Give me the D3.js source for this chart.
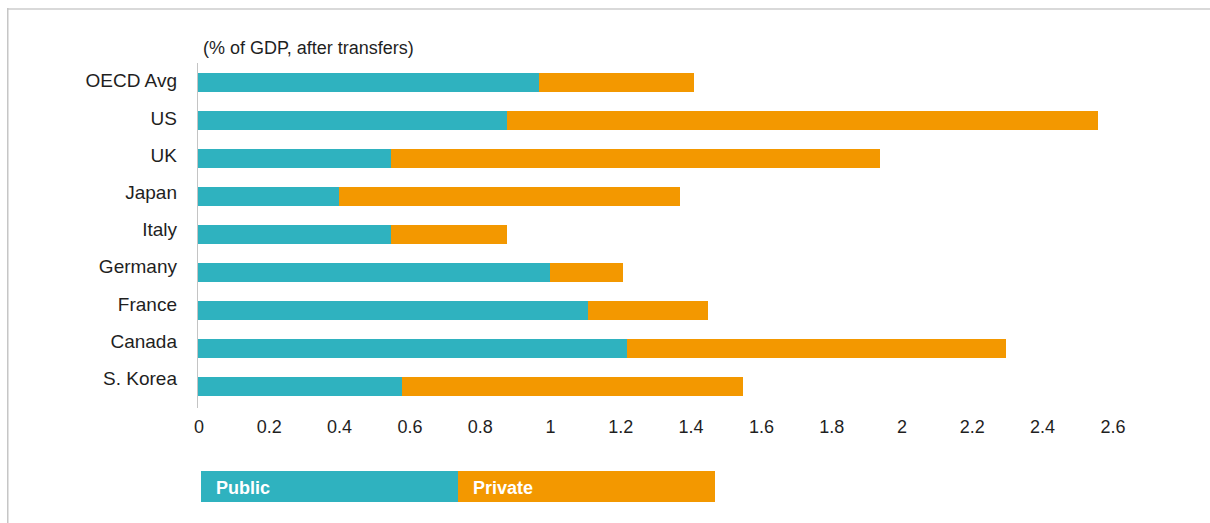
<!DOCTYPE html>
<html>
<head>
<meta charset="utf-8">
<script src="https://cdn.jsdelivr.net/npm/d3@7"></script>
<style>
  html, body { margin: 0; padding: 0; background: #fff; }
  svg { display: block; }
  text { font-family: "Liberation Sans", Arial, sans-serif; fill: #1f1f1f; }
</style>
</head>
<body>
<script>
// Spending by source, % of GDP after transfers
const categories = ["OECD Avg", "US", "UK", "Japan", "Italy", "Germany", "France", "Canada", "S. Korea"];
const publicValues = [0.97, 0.88, 0.55, 0.40, 0.55, 1.00, 1.11, 1.22, 0.58];
const privateValues = [0.44, 1.68, 1.39, 0.97, 0.33, 0.21, 0.34, 1.08, 0.97];
const seriesNames = ["Public", "Private"];
const seriesColors = ["#2fb2bf", "#f39800"];
const tickValues = [0, 0.2, 0.4, 0.6, 0.8, 1, 1.2, 1.4, 1.6, 1.8, 2, 2.2, 2.4, 2.6];
const tickLabels = ["0", "0.2", "0.4", "0.6", "0.8", "1", "1.2", "1.4", "1.6", "1.8", "2", "2.2", "2.4", "2.6"];
const unitLabel = "(% of GDP, after transfers)";

const W = 1210, H = 523;
const svg = d3.select("body").append("svg").attr("width", W).attr("height", H);

// frame lines (top and left)
svg.append("rect").attr("x", 7).attr("y", 8).attr("width", W - 7).attr("height", 2).attr("fill", "#d9d9d9");
svg.append("rect").attr("x", 7).attr("y", 8).attr("width", 1.5).attr("height", H - 8).attr("fill", "#c6c6c6");

const x = d3.scaleLinear().domain([0, 2.6]).range([198, 198 + 2.6 * 351.5]);
const y = d3.scaleBand().domain(categories).range([63.5, 405.5]).paddingInner(0.5).paddingOuter(0.25);
// label baselines sit on their own slightly tighter spacing
const yLabel = d3.scalePoint().domain(categories).range([87.3, 385]);

const rows = categories.map((c, i) => ({ cat: c, values: [publicValues[i], privateValues[i]] }));
const stacked = d3.stack().keys([0, 1]).value((d, k) => d.values[k])(rows);

svg.append("g").selectAll("g").data(stacked).join("g")
  .attr("fill", (d, i) => seriesColors[i])
  .selectAll("rect").data(d => d).join("rect")
  .attr("x", d => x(d[0]))
  .attr("width", d => x(d[1]) - x(d[0]))
  .attr("y", d => y(d.data.cat))
  .attr("height", y.bandwidth())
  .attr("shape-rendering", "crispEdges");

// vertical zero line
svg.append("line")
  .attr("x1", x(0) - 0.5).attr("x2", x(0) - 0.5)
  .attr("y1", 63).attr("y2", 408)
  .attr("stroke", "#c4c4c4").attr("stroke-width", 1);

// category labels
svg.append("g").selectAll("text").data(categories).join("text")
  .attr("x", 177).attr("y", d => yLabel(d))
  .attr("text-anchor", "end")
  .style("font-size", "19px")
  .text(d => d);

// x tick labels
svg.append("g").selectAll("text").data(tickValues).join("text")
  .attr("x", (d) => x(d) + 1)
  .attr("y", 433)
  .attr("text-anchor", "middle")
  .style("font-size", "18px")
  .text((d, i) => tickLabels[i]);

// unit label
svg.append("text").attr("x", 203).attr("y", 54)
  .style("font-size", "18px").text(unitLabel);

// legend
const legendX = d3.scaleBand().domain(seriesNames).range([201, 715]);
const lg = svg.append("g").selectAll("g").data(seriesNames).join("g")
  .attr("transform", d => `translate(${legendX(d)},471)`);
lg.append("rect").attr("width", legendX.bandwidth()).attr("height", 31)
  .attr("fill", (d, i) => seriesColors[i]);
lg.append("text").attr("x", 15).attr("y", 22.5)
  .style("font-size", "18px").style("font-weight", "bold").style("fill", "#fff")
  .text(d => d);
</script>
</body>
</html>
